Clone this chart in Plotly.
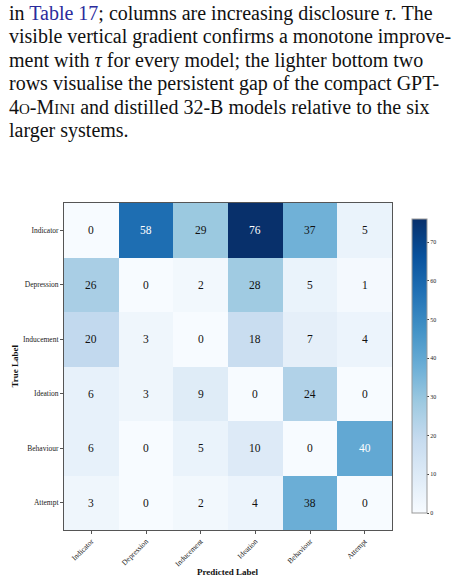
import plotly.graph_objects as go

labels = ["Indicator", "Depression", "Inducement", "Ideation", "Behaviour", "Attempt"]
z = [
    [0, 58, 29, 76, 37, 5],
    [26, 0, 2, 28, 5, 1],
    [20, 3, 0, 18, 7, 4],
    [6, 3, 9, 0, 24, 0],
    [6, 0, 5, 10, 0, 40],
    [3, 0, 2, 4, 38, 0],
]
cbar_ticks = [0, 10, 20, 30, 40, 50, 60, 70]

text_lines = [
    "in <span style='color:#2b2b9c'>Table 17</span>; columns are increasing disclosure <i>τ</i>. The",
    "visible vertical gradient confirms a monotone improve-",
    "ment with <i>τ</i> for every model; the lighter bottom two",
    "rows visualise the persistent gap of the compact GPT-",
    "4<span style='font-size:15px'>O</span>-M<span style='font-size:15px'>INI</span> and distilled 32-B models relative to the six",
    "larger systems.",
]

W, H = 453, 582
L, R, T, B = 64, 392, 203, 530
SERIF = "Times New Roman, Liberation Serif, DejaVu Serif, serif"

blues = [
    [0.0, "#f7fbff"], [0.125, "#deebf7"], [0.25, "#c6dbef"], [0.375, "#9ecae1"],
    [0.5, "#6baed6"], [0.625, "#4292c6"], [0.75, "#2171b5"], [0.875, "#08519c"],
    [1.0, "#08306b"],
]

zmax = max(max(r) for r in z)

fig = go.Figure()
fig.add_trace(go.Heatmap(
    z=z, x=labels, y=labels, colorscale=blues, zmin=0, zmax=zmax,
    showscale=True,
    colorbar=dict(
        lenmode="pixels", len=294, thickness=15,
        x=(412 - L) / (R - L), xanchor="left",
        y=(B - 366) / (B - T), yanchor="middle",
        outlinecolor="#999999", outlinewidth=1,
        tickvals=cbar_ticks, ticks="outside", ticklen=2, tickcolor="#444",
        tickfont=dict(family=SERIF, size=6, color="#222"),
        xpad=0, ypad=0,
    ),
    hoverinfo="skip",
))

ann = []
for i, row in enumerate(z):
    for j, v in enumerate(row):
        ann.append(dict(
            x=labels[j], y=labels[i], text=str(v), showarrow=False,
            font=dict(family=SERIF, size=11.5, color="white" if v > zmax / 2 else "#111"),
        ))

centers = [13, 36.5, 60, 83.5, 107, 130.5]
for yc, t in zip(centers, text_lines):
    ann.append(dict(
        xref="paper", yref="paper",
        x=(7 - L) / (R - L), y=(B - yc) / (B - T),
        xanchor="left", yanchor="middle", text=t, showarrow=False,
        font=dict(family=SERIF, size=20, color="#111"),
    ))

ann.append(dict(xref="paper", yref="paper", x=(14 - L) / (R - L), y=0.5,
                text="<b>True Label</b>", textangle=-90, showarrow=False,
                xanchor="center", yanchor="middle",
                font=dict(family=SERIF, size=9, color="#111")))
ann.append(dict(xref="paper", yref="paper", x=(228 - L) / (R - L), y=(B - 572) / (B - T),
                text="<b>Predicted Label</b>", showarrow=False,
                xanchor="center", yanchor="middle",
                font=dict(family=SERIF, size=9, color="#111")))

axis_common = dict(
    showline=True, linecolor="#555", linewidth=1, mirror=True,
    ticks="outside", ticklen=3, tickcolor="#555", showgrid=False, zeroline=False,
    tickfont=dict(family=SERIF, size=7.5, color="#222"),
)

fig.update_layout(
    width=W, height=H,
    margin=dict(l=L, r=W - R, t=T, b=H - B),
    paper_bgcolor="white", plot_bgcolor="white",
    font=dict(family=SERIF),
    xaxis=dict(**axis_common, tickangle=-45, categoryorder="array", categoryarray=labels),
    yaxis=dict(**axis_common, autorange="reversed", categoryorder="array", categoryarray=labels),
    annotations=ann,
    showlegend=False,
)

fig.write_html("out.html")
